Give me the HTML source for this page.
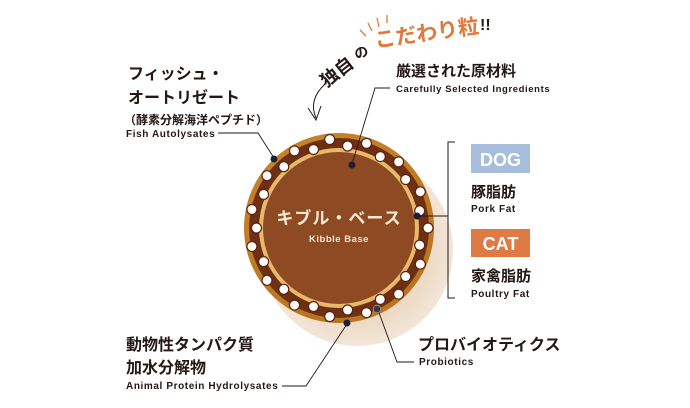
<!DOCTYPE html>
<html><head><meta charset="utf-8"><style>
html,body{margin:0;padding:0;background:#fff;width:690px;height:408px;overflow:hidden}
svg{display:block}
text{font-family:"Liberation Sans","Noto Sans CJK JP",sans-serif;fill:#231815}
.jp{font-weight:bold;font-size:15px}
.en{font-weight:bold;font-size:10px;letter-spacing:0.6px}
</style></head><body>
<svg width="690" height="408" viewBox="0 0 690 408" xmlns="http://www.w3.org/2000/svg">
<defs>
<radialGradient id="sh" cx="0.5" cy="0.5" r="0.5"><stop offset="0.6" stop-color="#e9d3bd"/><stop offset="1" stop-color="#f3e6d8"/></radialGradient>
<radialGradient id="outer" cx="0.45" cy="0.4" r="0.6"><stop offset="0" stop-color="#d79a3c"/><stop offset="1" stop-color="#b9741e"/></radialGradient>
</defs>
<circle cx="357" cy="250" r="96" fill="url(#sh)"/>
<circle cx="339" cy="228" r="95" fill="url(#outer)"/>
<circle cx="339" cy="228" r="90" fill="#6e2f12"/>
<circle cx="339" cy="228" r="80" fill="#e8b96a"/>
<circle cx="339" cy="228" r="76" fill="#8e4a22"/>
<g id="dots" fill="#fff" stroke="#5a2410" stroke-width="1.2"></g>
<text x="339" y="224" text-anchor="middle" style="font-weight:bold;font-size:17px;fill:#f6e8d6;letter-spacing:1px">キブル・ベース</text>
<text x="339" y="242" text-anchor="middle" style="font-weight:bold;font-size:9.5px;fill:#f6e8d6;letter-spacing:0.5px">Kibble Base</text>

<g transform="rotate(-38 338 70)"><text x="318" y="77" style="font-weight:bold;font-size:18px">独自</text></g>
<text x="355" y="58" transform="rotate(-20 360 55)" style="font-weight:bold;font-size:14px">の</text>
<text x="375" y="44" transform="rotate(-8 400 40)" style="font-weight:bold;font-size:21px;fill:#e0793a">こだわり粒</text>
<text x="480" y="30" style="font-weight:bold;font-size:16px">!!</text>
<g stroke="#e0793a" stroke-width="1.3" fill="none">
<line x1="360" y1="30" x2="366" y2="36"/><line x1="368" y1="23" x2="372" y2="31"/><line x1="377" y1="18" x2="379" y2="27"/><line x1="387" y1="15" x2="387" y2="23"/>
</g>
<path d="M325 84 Q308 100 316 118 M308 108 L316 120 L321 106" stroke="#231815" stroke-width="1" fill="none"/>

<text x="128" y="79" class="jp" style="font-size:16px">フィッシュ・</text>
<text x="128" y="103" class="jp" style="font-size:16px">オートリゼート</text>
<text x="124" y="124" style="font-weight:bold;font-size:12px">（酵素分解海洋ペプチド）</text>
<text x="126" y="137" class="en">Fish Autolysates</text>
<polyline points="218,133 258,133 274,158" fill="none" stroke="#231815" stroke-width="0.9"/>
<circle cx="274" cy="159" r="3.5" fill="#1a1f3a"/>

<text x="396" y="76" class="jp">厳選された原材料</text>
<text x="396" y="92" class="en" style="font-size:9.5px">Carefully Selected Ingredients</text>
<polyline points="390,88 375,88 352,164" fill="none" stroke="#231815" stroke-width="0.9"/>
<circle cx="352" cy="165" r="3.5" fill="#1a1f3a"/>

<polyline points="455,142 448,142 448,298 455,298" fill="none" stroke="#231815" stroke-width="1"/>
<line x1="418" y1="216" x2="448" y2="216" stroke="#231815" stroke-width="1"/>
<circle cx="417" cy="216" r="3.5" fill="#1a1f3a"/>
<rect x="471" y="144" width="59" height="29" fill="#a6bedc"/>
<text x="500.5" y="166" text-anchor="middle" style="font-weight:bold;font-size:18px;fill:#fff">DOG</text>
<text x="471" y="197" class="jp">豚脂肪</text>
<text x="471" y="212" class="en">Pork Fat</text>
<rect x="471" y="229" width="59" height="28" fill="#e07a45"/>
<text x="500.5" y="250" text-anchor="middle" style="font-weight:bold;font-size:18px;fill:#fff">CAT</text>
<text x="471" y="281" class="jp">家禽脂肪</text>
<text x="471" y="297" class="en">Poultry Fat</text>

<text x="418" y="350" class="jp" style="font-size:16px">プロバイオティクス</text>
<text x="419" y="365" class="en">Probiotics</text>
<polyline points="414,362 397,362 378,310" fill="none" stroke="#231815" stroke-width="0.9"/>
<circle cx="377" cy="309" r="3.8" fill="#3a3a46" stroke="#9a8a7a" stroke-width="1"/>

<text x="126" y="350" class="jp" style="font-size:16px">動物性タンパク質</text>
<text x="126" y="373" class="jp" style="font-size:16px">加水分解物</text>
<text x="126" y="389" class="en">Animal Protein Hydrolysates</text>
<polyline points="282,386 306,386 347,324" fill="none" stroke="#231815" stroke-width="0.9"/>
<circle cx="347" cy="323" r="3.5" fill="#1a1f3a"/>
</svg>
<script>
var g=document.getElementById('dots');var s='';
for(var i=0;i<30;i++){var a=i*12*Math.PI/180;var r=(i%2)?82.5:89;
var x=339+r*Math.cos(a),y=228+r*Math.sin(a);
s+='<circle cx="'+x.toFixed(1)+'" cy="'+y.toFixed(1)+'" r="5"/>';}
g.innerHTML=s;
</script>
</body></html>
